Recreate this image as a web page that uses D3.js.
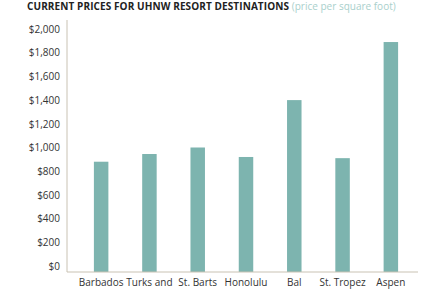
<!DOCTYPE html>
<html>
<head>
<meta charset="utf-8">
<script src="https://cdn.jsdelivr.net/npm/d3@7"></script>
<style>
  body { margin: 0; background: #fff; }
  text { font-family: 'Open Sans', sans-serif; }
</style>
</head>
<body>
<div id="chart"></div>
<script>
let destinations = ["Barbados", "Turks and", "St. Barts", "Honolulu", "Bal", "St. Tropez", "Aspen"];
let pricePerSqFt = [880, 945, 1000, 920, 1400, 910, 1890];
let yTicks = [0, 200, 400, 600, 800, 1000, 1200, 1400, 1600, 1800, 2000];

function barchart(selector) {
    let width = 436, height = 291;

    let svg = d3.select(selector)
        .append("svg")
        .attr("width", width)
        .attr("height", height);

    // title
    let title = svg.append("text")
        .attr("x", 27)
        .attr("y", 10)
        .style("font-size", "10px");
    title.append("tspan")
        .style("font-weight", "bold")
        .style("letter-spacing", "0.1px")
        .attr("fill", "#222")
        .text("CURRENT PRICES FOR UHNW RESORT DESTINATIONS ");
    title.append("tspan")
        .attr("fill", "#a9d0cc")
        .text("(price per square foot)");

    let axisX = 67, axisBottom = 272;

    let x = d3.scaleBand()
        .domain(destinations)
        .range([77, 415])
        .paddingInner(0.7)
        .paddingOuter(0.35);

    let y = d3.scaleLinear()
        .domain([0, 2000])
        .range([266, 29]);

    // bars run down to the axis line
    svg.selectAll("rect.bar")
        .data(pricePerSqFt)
        .enter()
        .append("rect")
        .attr("class", "bar")
        .attr("x", (d, i) => x(destinations[i]))
        .attr("width", x.bandwidth())
        .attr("y", d => y(d))
        .attr("height", d => axisBottom - y(d))
        .attr("fill", "#7db4af");

    // y axis
    let yAxis = svg.append("g")
        .attr("transform", "translate(" + axisX + ",0)")
        .call(d3.axisLeft(y)
            .tickValues(yTicks)
            .tickSize(0)
            .tickPadding(7)
            .tickFormat(d => "$" + d3.format(",")(d)));
    yAxis.select(".domain").remove();
    yAxis.selectAll("text")
        .style("font-size", "10px")
        .attr("fill", "#333");

    svg.append("line")
        .attr("x1", axisX).attr("x2", axisX)
        .attr("y1", 20).attr("y2", axisBottom)
        .attr("stroke", "#c9c2b3");

    // x axis
    let xAxis = svg.append("g")
        .attr("transform", "translate(0," + axisBottom + ")")
        .call(d3.axisBottom(x).tickSize(0).tickPadding(7));
    xAxis.select(".domain").remove();
    xAxis.selectAll("text")
        .style("font-size", "10px")
        .attr("fill", "#333");

    svg.append("line")
        .attr("x1", axisX).attr("x2", 418)
        .attr("y1", axisBottom).attr("y2", axisBottom)
        .attr("stroke", "#c9c2b3");
}

barchart("#chart");
</script>
</body>
</html>
